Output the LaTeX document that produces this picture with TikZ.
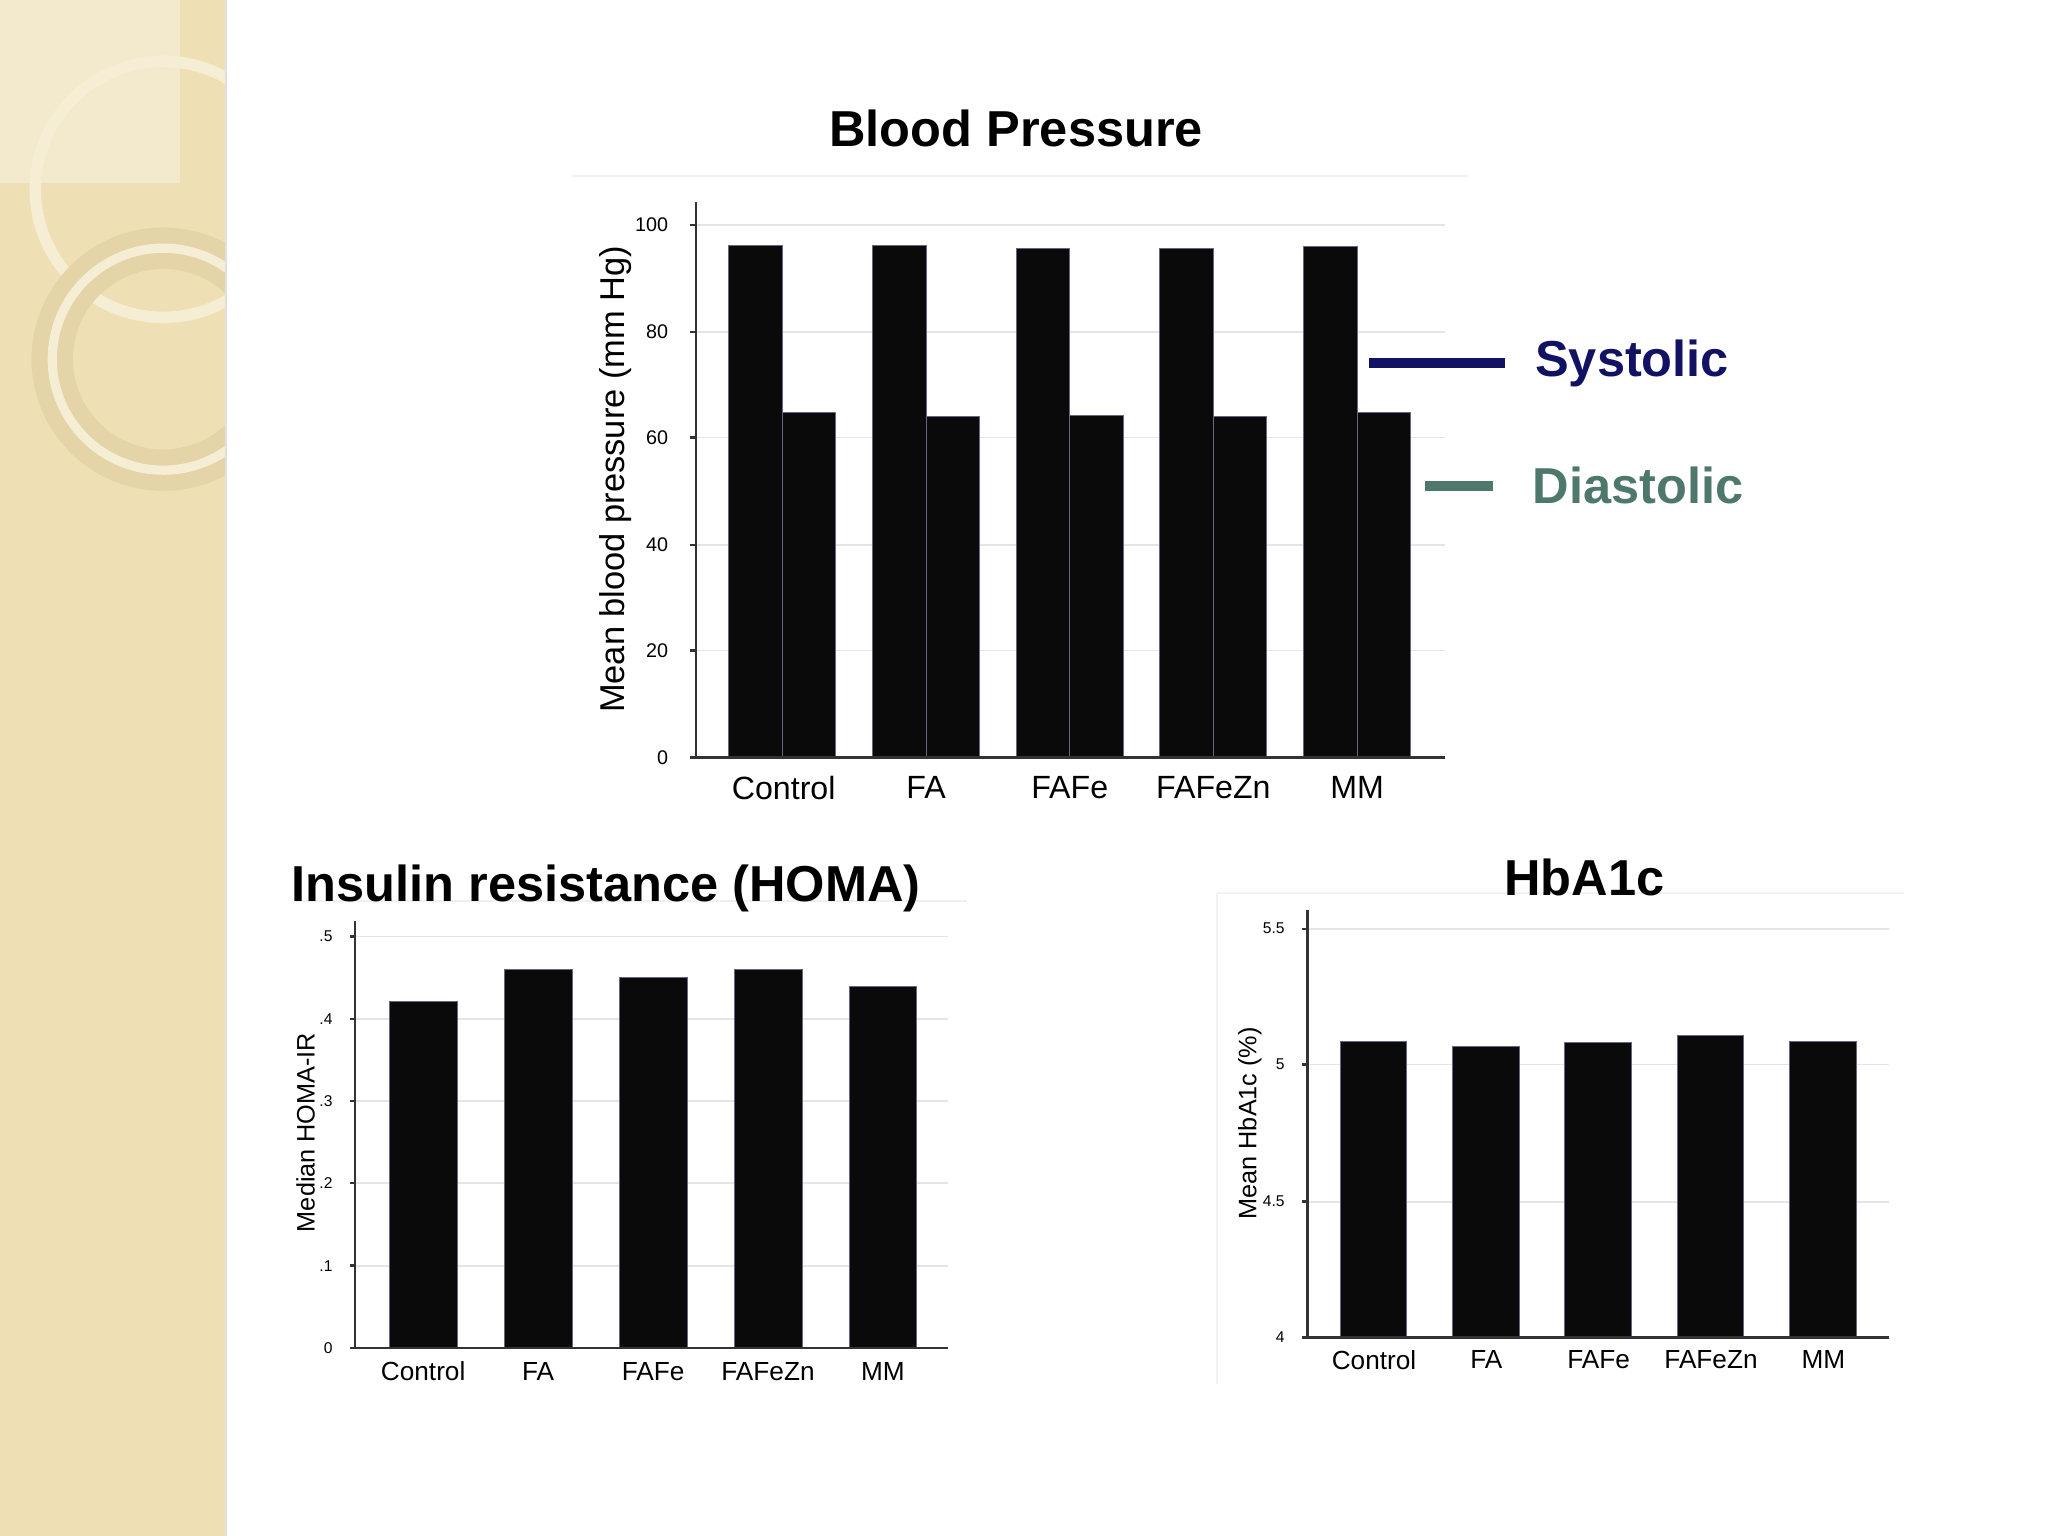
\documentclass[tikz,border=0pt]{standalone}
\usepackage{fontspec}
\setmainfont{Liberation Sans}
\definecolor{strip}{RGB}{238,224,180}
\definecolor{ringA}{RGB}{246,238,212}
\definecolor{ringB}{RGB}{228,212,168}
\begin{document}
\begin{tikzpicture}[x=0.01cm,y=-0.01cm,
 bar/.style={fill=black!96,draw=black!80!blue!60,line width=0.2pt},
 grid/.style={draw=black!10,line width=0.4pt},
 ax/.style={draw=black!80,line width=0.5pt},
 ttl/.style={font=\fontsize{11}{13}\selectfont\bfseries},
 tk/.style={font=\fontsize{4.3}{5}\selectfont,anchor=east},
 tks/.style={font=\fontsize{3.4}{4}\selectfont,anchor=east},
 cat/.style={font=\fontsize{7}{8}\selectfont},
 cats/.style={font=\fontsize{5.7}{7}\selectfont},
 ylab/.style={font=\fontsize{7.5}{9}\selectfont,rotate=90},
 ylabs/.style={font=\fontsize{5.5}{7}\selectfont,rotate=90}]
\useasboundingbox (0,0) rectangle (1568,1176);
\fill[white] (0,0) rectangle (1568,1176);
% left strip
\fill[strip] (0,0) rectangle (173,1176);
\begin{scope}
\clip (0,0) rectangle (173,1176);
\fill[white,opacity=0.35] (0,0) rectangle (138,140);
\draw[ringA,line width=2.5pt] (125,145) circle (98);
\draw[ringB,line width=9pt] (125,275) circle (85);
\draw[ringA,line width=2pt] (125,275) circle (85);
\end{scope}
\fill[black!12] (172,0) rectangle (174,1176);

% ===== Blood pressure =====
\draw[black!6] (438,135) -- (1124,135);
\node[ttl] (bpt) at (778,98) {Blood Pressure};
\foreach \y/\l in {580/0,498/20,417/40,335/60,254/80,172/100}{
 \draw[grid] (533,\y) -- (1106,\y);
 \draw[ax] (528,\y) -- (533,\y);
 \node[tk] at (524,\y) {\l};}
\foreach \a/\b/\s/\d in {558/599/188/316,668/709/188/319,778/819/190/318,888/929/190/319,998/1039/189/316}{
 \fill[bar] (\a,580) rectangle (\b,\s);
 \fill[bar] (\b,580) rectangle (\b+41,\d);}
\draw[ax] (533,155) -- (533,580) -- (1106,580);
\foreach \x/\l in {600/Control,709/FA,819/FAFe,929/FAFeZn,1039/MM}
 \node[cat] at (\x,603) {\l};
\node[ylab] (bpy) at (471,367) {Mean blood pressure (mm Hg)};
\coordinate (s1) at (1048,278); \coordinate (s2) at (1152,278);
\draw[line width=2.2pt,color={rgb,255:red,18;green,18;blue,100}] (s1) -- (s2);
\node[anchor=west,ttl,text={rgb,255:red,18;green,18;blue,100}] (sys) at (1163,278) {Systolic};
\coordinate (d1) at (1091,372); \coordinate (d2) at (1143,372);
\draw[line width=2.2pt,color={rgb,255:red,78;green,120;blue,108}] (d1) -- (d2);
\node[anchor=west,ttl,text={rgb,255:red,78;green,120;blue,108}] (dia) at (1161,372) {Diastolic};

% ===== HOMA =====
\draw[black!6] (225,690) -- (740,690);
\node[ttl] (ht) at (464,680) {Insulin resistance (HOMA)};
\foreach \y/\l in {1032/0,969/.1,906/.2,843/.3,780/.4,717/.5}{
 \draw[grid] (272,\y) -- (726,\y);
 \draw[ax] (268,\y) -- (272,\y);
 \node[tks] at (267,\y) {\l};}
\foreach \a/\t in {298/767,386/742,474/748,562/742,650/755}
 \fill[bar] (\a,1032) rectangle (\a+52,\t);
\draw[ax] (272,705) -- (272,1032) -- (726,1032);
\foreach \x/\l in {324/Control,412/FA,500/FAFe,588/FAFeZn,676/MM}
 \node[cats] at (\x,1050) {\l};
\node[ylabs] (hy) at (234,867) {Median HOMA-IR};

% ===== HbA1c =====
\draw[black!5] (932,684) -- (1458,684);
\draw[black!5] (932,684) -- (932,1060);
\node[ttl] (at) at (1213,672) {HbA1c};
\foreach \y/\l in {1024/4,920/4.5,815/5,711/5.5}{
 \draw[grid] (1001,\y) -- (1446,\y);
 \draw[ax] (997,\y) -- (1001,\y);
 \node[tks] at (996,\y) {\l};}
\foreach \a/\t in {1026/797,1112/801,1198/798,1284/793,1370/797}
 \fill[bar] (\a,1024) rectangle (\a+51,\t);
\draw[ax] (1001,697) -- (1001,1024) -- (1446,1024);
\foreach \x/\l in {1052/Control,1138/FA,1224/FAFe,1310/FAFeZn,1396/MM}
 \node[cats] at (\x,1041) {\l};
\node[ylabs] (ay) at (957,860) {Mean HbA1c (\%)};
\end{tikzpicture}
\end{document}
